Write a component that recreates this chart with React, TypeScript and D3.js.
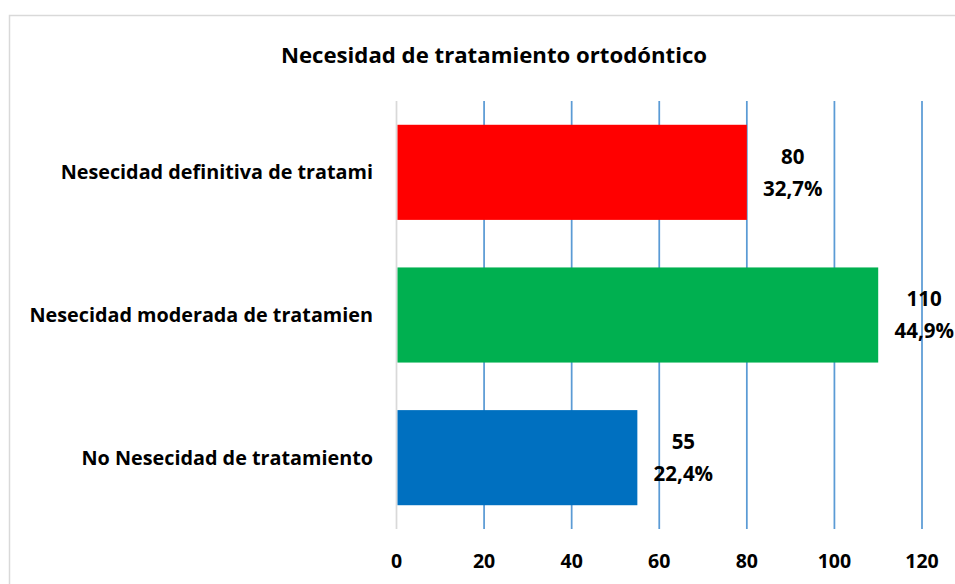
import { useEffect, useRef } from "react";
import * as d3 from "d3";

const categories = [
  "Nesecidad definitiva de tratami",
  "Nesecidad moderada de tratamien",
  "No Nesecidad de tratamiento",
];
const counts = [80, 110, 55];
const percents = ["32,7%", "44,9%", "22,4%"];
const barColors = ["#ff0000", "#00b050", "#0070c0"];
const xTicks = [0, 20, 40, 60, 80, 100, 120];
const chartTitle = "Necesidad de tratamiento ortodóntico";

export default function App() {
  const svgRef = useRef<SVGSVGElement | null>(null);

  useEffect(() => {
    const el = svgRef.current;
    if (!el) return;

    const width = 955;
    const height = 584;
    const font = "'Open Sans', Lato, sans-serif";

    const svg = d3.select(el);
    svg.selectAll("*").remove();

    svg.attr("width", width).attr("height", height);

    // white background + chart border (runs off the right/bottom edge)
    svg.append("rect").attr("width", width).attr("height", height).attr("fill", "#fff");
    svg
      .append("rect")
      .attr("x", 9.5)
      .attr("y", 15.5)
      .attr("width", 1000)
      .attr("height", 700)
      .attr("fill", "none")
      .attr("stroke", "#d9d9d9")
      .attr("stroke-width", 1.5);

    // plot area
    const plot = { left: 396.5, right: 922, top: 101, bottom: 529 };

    const x = d3.scaleLinear().domain([0, 120]).range([plot.left, plot.right]);
    const y = d3
      .scaleBand<string>()
      .domain(categories)
      .range([plot.top, plot.bottom])
      .paddingInner(1 / 3)
      .paddingOuter(1 / 6);

    // gridlines
    svg
      .append("g")
      .selectAll("line")
      .data(xTicks.filter((t) => t > 0))
      .join("line")
      .attr("x1", (d) => x(d))
      .attr("x2", (d) => x(d))
      .attr("y1", plot.top)
      .attr("y2", plot.bottom)
      .attr("stroke", "#5b9bd5")
      .attr("stroke-width", 1.75);

    // category axis line at zero
    svg
      .append("line")
      .attr("x1", x(0))
      .attr("x2", x(0))
      .attr("y1", plot.top)
      .attr("y2", plot.bottom)
      .attr("stroke", "#d9d9d9")
      .attr("stroke-width", 1.75);

    // bars
    svg
      .append("g")
      .selectAll("rect")
      .data(categories)
      .join("rect")
      .attr("x", x(0) + 1)
      .attr("y", (d) => y(d)!)
      .attr("width", (d, i) => x(counts[i]) - x(0) - 1)
      .attr("height", y.bandwidth())
      .attr("fill", (d, i) => barColors[i]);

    // data labels
    const labels = svg
      .append("g")
      .attr("font-family", font)
      .attr("font-weight", "bold")
      .attr("font-size", 20.5)
      .attr("fill", "#000")
      .attr("text-anchor", "middle");

    categories.forEach((c, i) => {
      const cx = x(counts[i]) + 46;
      const cy = y(c)! + y.bandwidth() / 2;
      labels
        .append("text")
        .attr("x", cx)
        .attr("y", cy - 16)
        .attr("dy", "0.35em")
        .text(counts[i]);
      labels
        .append("text")
        .attr("x", cx)
        .attr("y", cy + 16)
        .attr("dy", "0.35em")
        .text(percents[i]);
    });

    // category labels
    svg
      .append("g")
      .attr("font-family", font)
      .attr("font-weight", "bold")
      .attr("font-size", 19.8)
      .attr("text-anchor", "end")
      .selectAll("text")
      .data(categories)
      .join("text")
      .attr("x", 373)
      .attr("y", (d) => y(d)! + y.bandwidth() / 2)
      .attr("dy", "0.35em")
      .text((d) => d);

    // value axis labels
    svg
      .append("g")
      .attr("font-family", font)
      .attr("font-weight", "bold")
      .attr("font-size", 19.5)
      .attr("text-anchor", "middle")
      .selectAll("text")
      .data(xTicks)
      .join("text")
      .attr("x", (d) => x(d))
      .attr("y", 561)
      .attr("dy", "0.35em")
      .text((d) => d);

    // title
    svg
      .append("text")
      .attr("x", 494)
      .attr("y", 55)
      .attr("dy", "0.35em")
      .attr("font-family", font)
      .attr("font-weight", "bold")
      .attr("font-size", 22.2)
      .attr("text-anchor", "middle")
      .text(chartTitle);
  }, []);

  return (
    <div style={{ position: "absolute", left: 0, top: 0 }}>
      <svg ref={svgRef} style={{ display: "block" }} />
    </div>
  );
}
